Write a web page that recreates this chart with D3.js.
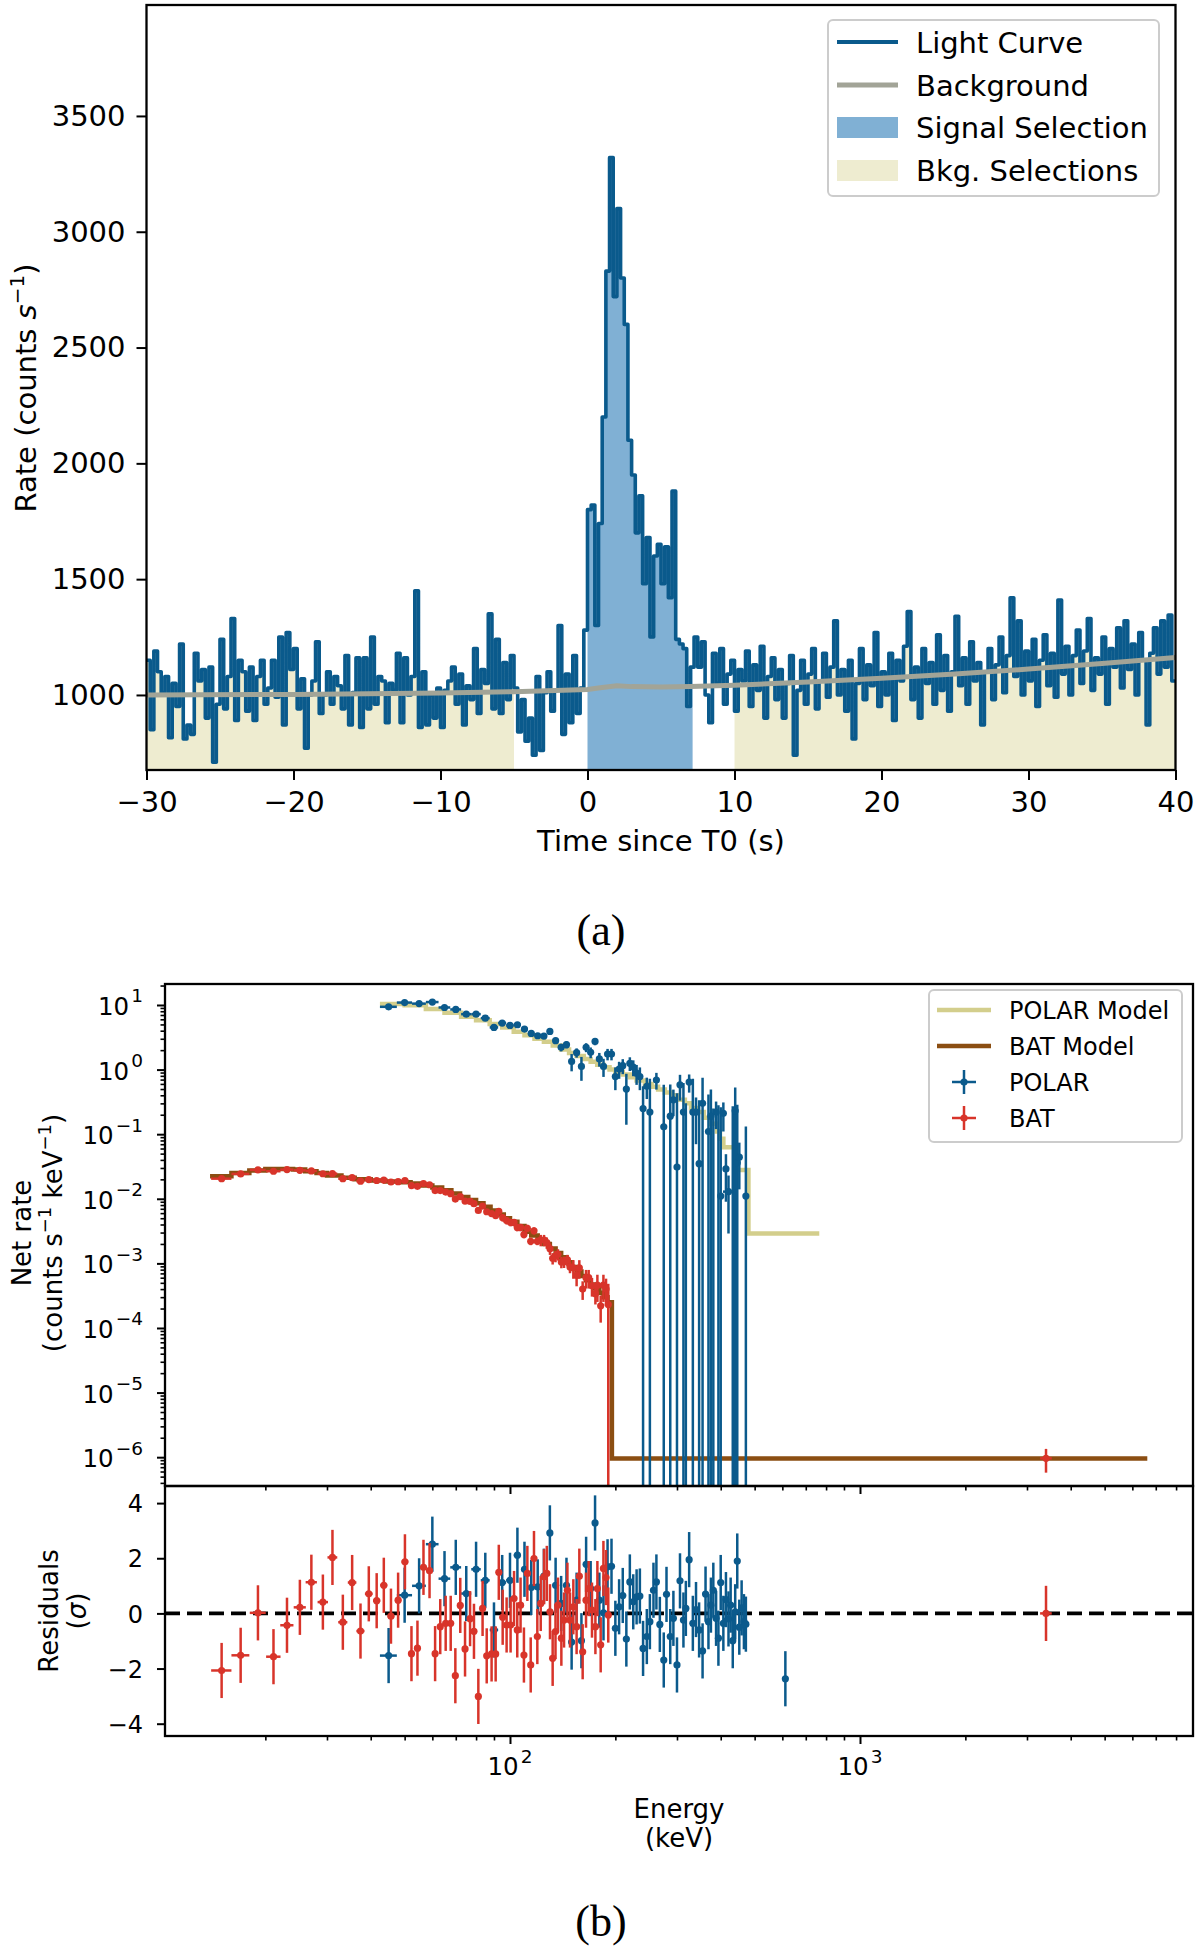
<!DOCTYPE html>
<meta charset="utf-8">
<style>
body { margin: 0; background: #fff; }
svg { display: block; font-family: "DejaVu Sans", sans-serif; }
</style>
<svg id="fig" width="1200" height="1956"></svg>
<script src="https://d3js.org/d3.v7.min.js"></script>
<script>
'use strict';

// ---------- (a) light curve, 0.25 s bins from -30 s ----------
var lcStart = -30, lcBin = 0.25;
var lcPre = [
  1150, 850, 1190, 1100, 1010, 1080, 815, 1050, 950, 1220,
  810, 870, 830, 1180, 1060, 1110, 900, 1120, 710, 960,
  1240, 940, 1080, 1330, 890, 1150, 1100, 930, 1120, 890,
  1080, 1150, 960, 1030, 1150, 990, 1250, 870, 1270, 1110,
  1200, 940, 1070, 770, 1000, 1060, 1230, 920, 1000, 1100,
  960, 1080, 1040, 940, 1170, 870, 1010, 1160, 860, 1160,
  940, 1250, 960, 1080, 1060, 880, 1050, 1020, 1180, 880,
  1160, 1000, 1080, 1450, 860, 1100, 870,
  1000, 900, 1030, 860, 1020, 1060, 1120, 960, 1090, 870,
  1040, 980, 1200, 920, 1110, 1050, 1350, 940, 1240, 920,
  1140, 980, 1170, 1030, 840, 980, 800, 900, 740, 1080,
  760, 1010, 1100, 930, 1020, 1300, 830, 1090, 880, 1170,
  920, 1030, 1280];
var lcBurst = [
  1800, 1820, 1300, 1740, 2200, 2830, 3320, 2720, 3100, 2800,
  2600, 2100, 1950, 1700, 1860, 1480, 1680, 1250, 1600, 1650,
  1480, 1640, 1420, 1880, 1240, 1220, 1200, 950, 1120];
var lcPost = [
  1250, 1120, 1230, 1000, 880, 1180, 1050, 1200, 960, 1090, 1150,
  930, 1110, 1060, 1190, 950, 1130, 1020, 1210, 900, 1080,
  1160, 980, 1110, 900, 1050, 1170, 740, 1020, 1150, 960,
  1090, 1200, 940, 1060, 1180, 990, 1120, 1320, 1000, 1110,
  930, 1150, 810, 1050, 1200, 980, 1130, 1040, 1270, 950,
  1100, 1000, 1180, 890, 1150, 1060, 1210, 1360, 980, 1120,
  900, 1200, 1050, 1140, 960, 1260, 1020, 1170, 930, 1100,
  1340, 1040, 1160, 960, 1230, 1060, 1140, 870, 1100, 1200,
  980, 1130, 1250, 1010, 1170, 1420, 1080, 1320, 1000, 1190,
  1060, 1240, 950, 1150, 1260, 1040, 1180, 990, 1410, 1090,
  1210, 1000, 1170, 1280, 1050, 1190, 1330, 1020, 1160, 1090,
  1250, 960, 1200, 1120, 1290, 1030, 1320, 1110, 1220, 1000,
  1270, 1150, 870, 1180, 1290, 1090, 1320, 1120, 1345, 1060];
var lcRate = lcPre.concat(lcBurst, lcPost);

var bgTime = [-30, -20, -10, -5, 0, 1, 2, 3, 5, 7, 10, 15, 20, 25, 30, 35, 40];
var bgRate = [1000, 1002, 1008, 1014, 1024, 1032, 1040, 1036, 1034, 1036, 1042, 1056, 1072, 1090, 1112, 1136, 1162];

var sigSel = [0, 7.15];
var bkgSel = [[-30, -5], [10, 40]];

var xTicksA = [-30, -20, -10, 0, 10, 20, 30, 40];
var yTicksA = [1000, 1500, 2000, 2500, 3000, 3500];
var legendA = ["Light Curve", "Background", "Signal Selection", "Bkg. Selections"];

// ---------- (b) spectra ----------
var polarE = [45, 50, 55, 60, 65, 70, 75, 80, 85, 90, 95, 100, 105, 110, 115, 120, 125, 130, 135, 140,
  145, 150, 155, 160, 165, 170, 175, 180, 185, 190, 195, 200, 205, 210, 215, 220, 225, 230, 235, 240,
  246, 251, 257, 262, 268, 275, 280, 287, 293, 300, 306, 313, 318, 325, 333, 340, 347, 355, 362, 369,
  375, 381, 388, 394, 400, 407, 414, 421, 427, 433, 440, 446, 452, 459, 466, 472, 612];
var polarRate = [9.37, 10.9, 10.5, 11.1, 9.15, 8.53, 7.21, 7.21, 6.26, 4.50, 5.25, 4.83, 4.94, 4.24, 3.63, 3.34, 3.30, 3.90, 2.80, 2.21,
  2.43, 1.34, 1.83, 1.12, 2.21, 1.85, 2.73, 1.46, 1.12, 1.74, 1.74, 0.78, 1.02, 1.15, 0.50, 1.25, 1.09, 0.88, 0.78, 0.25,
  0.55, 0.22, -0.2, 0.69, -0.15, 0.13, -0.1, 0.19, 0.34, 0.031, 0.58, 0.22, -0.05, 0.64, 0.22, 0.22, 0.035, 0.30, -0.1, 0.11,
  0.19, -0.05, 0.22, -0.02, 0.011, 0.21, 0.029, 0.0129, -0.05, -0.03, 0.23, 0.036, 0.044, -0.05, -0.05, 0.011, -0.01];
var polarErr = [0.5, 0.5, 0.5, 0.5, 0.45, 0.45, 0.4, 0.4, 0.4, 0.4, 0.35, 0.35, 0.35, 0.35, 0.3, 0.3, 0.3, 0.3, 0.3, 0.3,
  0.3, 0.4, 0.3, 0.45, 0.35, 0.35, 0.35, 0.35, 0.35, 0.35, 0.35, 0.3, 0.3, 0.3, 0.36, 0.3, 0.3, 0.3, 0.3, 0.3,
  0.2, 0.5, 0.1, 0.2, 0.1, 0.45, 0.05, 0.4, 0.15, 0.4, 0.25, 0.4, 0.35, 0.2, 0.5, 0.15, 0.3, 0.45, 0.05, 0.3,
  0.3, 0.3, 0.1, 0.3, 0.25, 0.1, 0.02, 0.01, 0.02, 0.3, 0.3, 0.25, 0.03, 0.02, 0.02, 0.12, 0.004];
var polarXerr = [2.5, 2.5, 2.5, 2.5, 2.5, 2.5, 2.5, 2.5, 2.5, 2.5, 2.5, 2.5, 2.5, 2.5, 2.5, 2.5, 2.5, 2.5, 2.5, 2.5,
  2.5, 2.5, 2.5, 2.5, 2.5, 2.5, 2.5, 2.5, 2.5, 2.5, 2.5, 2.5, 2.5, 2.5, 2.5, 2.5, 2.5, 2.5, 2.5, 2.5,
  3, 3, 3, 3, 3, 3, 3, 3, 3, 3, 3, 3, 3, 3, 3, 3, 3, 3, 3, 3,
  3, 3, 3, 3, 3, 3, 3, 15, 3, 3, 3, 3, 3, 3, 3, 3, 0];
var polarRes = [-1.53, 0.66, 1.0, 2.51, 1.26, 1.67, 0.72, 1.60, 1.20, -0.60, 1.12, 1.2, 2.11, 1.60, 0.94, 0.96, 1.35, 2.92, 1.02, 0.36,
  1.02, -1.04, 0.48, -0.99, 1.78, 0.90, 3.28, 0.48, 0.02, 1.69, 1.71, -0.54, 0.24, 0.65, -0.93, 1.14, 0.42, 0.60, 0.63, -1.27,
  -0.84, -0.30, 0.84, 1.14, -0.4, -1.69, 0.69, -0.84, -0.18, -1.87, 1.18, -0.24, 0.18, 1.95, -0.36, 0.14, -0.6, -1.36, 0.70, -0.30,
  0.30, 0.84, -0.18, -0.9, 1.12, -0.36, 0.5, -0.2, 0.3, -0.99, 0.06, 1.90, -0.5, 0.2, -0.3, -0.39, -2.37];

var batE = [15.0, 17.0, 19.05, 21.1, 23.06, 25.1, 27.07, 29.2, 31.1, 33.3, 35.4, 37.4, 39.5, 41.6, 43.6, 45.7, 47.9, 50.1,
  52.3, 54.4, 56.6, 58.9, 61.1, 63.2, 65.5, 67.7, 69.8, 72.1, 74.4, 76.9, 78.9, 81.2, 83.5, 85.8, 88.6, 91.0,
  92.9, 95.3, 97.8, 100.4, 102.7, 104.9, 107.2, 109.6, 112.1, 114.6, 117.1, 119.7, 122.4, 125.1, 127.4, 130.1,
  132.4, 134.9, 137.1, 140.2, 142.7, 145.9, 148.4, 151.7, 155.0, 157.8, 161.3, 164.9, 167.8, 171.5, 175.4,
  177.7, 181.6, 184.9, 188.1, 190.9, 3400];
var batRate = [0.0205, 0.0243, 0.0280, 0.0267, 0.0283, 0.0276, 0.0270, 0.0244, 0.0245, 0.0205, 0.0212, 0.0187, 0.0198, 0.0192, 0.0195, 0.0182, 0.0184, 0.0192,
  0.0160, 0.0156, 0.0172, 0.0165, 0.0134, 0.0134, 0.0127, 0.0120, 0.0099, 0.0108, 0.0092, 0.0091, 0.0084, 0.0066, 0.0077, 0.0063, 0.0059, 0.0055,
  0.0064, 0.0051, 0.0046, 0.0043, 0.0043, 0.0036, 0.0036, 0.0028, 0.0035, 0.0022, 0.0032, 0.0022, 0.0023, 0.0023, 0.0021, 0.00169,
  0.0012, 0.0013, 0.00138, 0.00105, 0.00106, 0.00113, 0.00088, 0.00085, 0.00065, 0.00085, 0.00040, 0.00060, 0.00060, 0.00045, 0.00034,
  0.00046, 0.00022, 0.00046, 0.00040, 0.00023, 9.6e-7];
var batRelErr = [0.06, 0.06, 0.06, 0.06, 0.06, 0.06, 0.06, 0.06, 0.06, 0.06, 0.06, 0.05, 0.05, 0.05, 0.05, 0.05, 0.05, 0.05,
  0.055, 0.055, 0.055, 0.055, 0.055, 0.055, 0.055, 0.055, 0.055, 0.055, 0.08, 0.08, 0.08, 0.08, 0.08, 0.08, 0.08, 0.08,
  0.08, 0.13, 0.13, 0.13, 0.13, 0.13, 0.13, 0.13, 0.13, 0.13, 0.13, 0.13, 0.2, 0.2, 0.2, 0.2,
  0.2, 0.2, 0.2, 0.2, 0.2, 0.2, 0.2, 0.32, 0.32, 0.32, 0.32, 0.32, 0.32, 0.32, 0.32,
  0.45, 0.45, 0.45, 0.45, 1.1, 0.4];
var batXerr = [1.0, 1.0, 1.0, 1.0, 1.0, 1.0, 1.0, 1.0, 1.0, 1.0, 1.0, 1.0, 1.0, 1.0, 1.0, 1.0, 1.0, 1.1,
  1.1, 1.1, 1.1, 1.1, 1.1, 1.1, 1.1, 1.1, 1.1, 1.1, 1.1, 1.1, 1.1, 1.1, 1.1, 1.1, 1.1, 1.1,
  1.1, 1.2, 1.2, 1.2, 1.2, 1.2, 1.2, 1.2, 1.2, 1.2, 1.2, 1.2, 1.3, 1.3, 1.3, 1.3,
  1.3, 1.3, 1.3, 1.3, 1.3, 1.3, 1.3, 1.3, 1.3, 1.3, 1.3, 1.3, 1.3, 1.3, 1.3,
  1.3, 1.3, 1.3, 1.3, 1.3, 130];
var batRes = [-2.07, -1.52, 0.02, -1.57, -0.43, 0.22, 1.13, 0.41, 2.03, -0.32, 1.12, -0.64, 0.71, 0.46, 1.02, -0.10, 0.48, 1.87,
  -1.46, -1.26, 1.67, 1.55, -1.46, -0.48, -0.36, -0.36, -2.26, 0.29, -1.29, -0.19, -0.65, -3.01, 0.18, -1.54, -1.47, -1.47,
  1.49, -0.14, -0.42, -0.42, 0.54, -0.60, 0.30, -1.51, 1.45, -1.87, 1.99, -0.84, 0.36, 1.33, 1.45, 0.06,
  -1.63, -0.66, 0.30, -0.90, -0.24, 0.84, -0.24, 0.24, -0.48, 1.35, -1.39, 0.48, 0.90, 0.12, -0.48,
  0.90, -1.14, 1.63, 1.30, -0.06, 0.0];

// folded models, drawn as steps (value holds until next edge)
var polarModelE = [42.5, 50, 57.5, 65, 72.5, 80, 87.5, 95, 102.5, 110, 117.5, 125, 132.5, 140, 147.5, 155, 162.5, 170, 177.5,
  185, 192.5, 200, 210, 220, 230, 243, 254, 265, 277, 290, 303, 316, 329, 343, 358, 373, 390, 398, 407, 440, 480, 765];
var polarModelV = [10.4, 9.9, 8.7, 7.6, 6.6, 5.8, 5.1, 4.5, 3.85, 3.4, 3.0, 2.7, 2.35, 2.05, 1.8, 1.62, 1.46, 1.32, 1.19,
  1.09, 1.0, 0.92, 0.84, 0.76, 0.68, 0.60, 0.54, 0.49, 0.44, 0.40, 0.34, 0.30, 0.255, 0.22, 0.18, 0.145, 0.11, 0.085, 0.063, 0.028, 0.0029, 0.0029];
var batModelE = [13.9, 16, 18, 20, 22, 24, 26, 28, 30, 33, 36, 40, 44, 48, 52, 56, 60, 64, 68, 72, 76, 80, 84, 88, 92, 96,
  100, 105, 110, 115, 120, 125, 130, 135, 140, 145, 150, 155, 160, 165, 170, 175, 180, 185, 190, 195.5, 6620];
var batModelV = [0.0223, 0.0251, 0.0274, 0.0288, 0.0290, 0.0285, 0.0268, 0.0250, 0.0230, 0.0212, 0.0200, 0.0192, 0.0186, 0.0180,
  0.0172, 0.0161, 0.0150, 0.0136, 0.0121, 0.0107, 0.0096, 0.0085, 0.0075, 0.0066, 0.0057, 0.0050, 0.0044, 0.0038, 0.0031,
  0.0027, 0.0023, 0.0020, 0.0017, 0.00145, 0.00124, 0.00104, 0.00088, 0.00075, 0.00064, 0.00055, 0.00047, 0.00041,
  0.00035, 0.00030, 0.00025, 9.5e-7, 9.5e-7];

var xTicksB = [100, 1000];
var xExpB = ["2", "3"];
var yTicksB = [1e-6, 1e-5, 1e-4, 1e-3, 1e-2, 1e-1, 1, 10];
var yExpB = ["\u22126", "\u22125", "\u22124", "\u22123", "\u22122", "\u22121", "0", "1"];
var rTicks = [-4, -2, 0, 2, 4];
var legendB = ["POLAR Model", "BAT Model", "POLAR", "BAT"];

// ---------- style ----------
var lcBlue = "#0a5a8c", bgGray = "#a2a497", sigFill = "#80b0d4", bkgFill = "#eeecd0";
var polarCol = "#0b5a8c", batCol = "#d8342a", polarModelCol = "#d3ce8c", batModelCol = "#8b4e12";

var svg = d3.select("#fig");
var defs = svg.append("defs");

function clip(id, rects) {
  var c = defs.append("clipPath").attr("id", id);
  rects.forEach(function(r) {
    c.append("rect").attr("x", r[0]).attr("y", r[1]).attr("width", r[2]).attr("height", r[3]);
  });
}

function styleAxis(g, size) {
  g.select(".domain").remove();
  g.selectAll(".tick line").attr("stroke", "#000").attr("stroke-width", 2);
  g.selectAll("text").attr("font-size", size).attr("font-family", "DejaVu Sans").attr("fill", "#000");
  g.attr("font-family", null).attr("font-size", null);
}

// ===================== panel (a) =====================
var xa = d3.scaleLinear().domain([-30, 40]).range([146.5, 1175.5]);
var ya = d3.scaleLinear().domain([676, 3979]).range([770, 5]);
var ga = svg.append("g");

clip("clipA", [[146.5, 5, 1029, 765]]);
clip("clipSig", [[xa(sigSel[0]), 5, xa(sigSel[1]) - xa(sigSel[0]), 765]]);
clip("clipBkg", bkgSel.map(function(s) { return [xa(s[0]), 5, xa(s[1]) - xa(s[0]), 765]; }));

var lcPts = lcRate.map(function(v, i) { return [lcStart + i * lcBin, v]; });
lcPts.push([40, lcRate[lcRate.length - 1]]);

var areaA = d3.area().curve(d3.curveStepAfter)
  .x(function(d) { return xa(d[0]); })
  .y0(ya(ya.domain()[0]))
  .y1(function(d) { return ya(d[1]); });
var lineA = d3.line().curve(d3.curveStepAfter)
  .x(function(d) { return xa(d[0]); })
  .y(function(d) { return ya(d[1]); });

ga.append("path").datum(lcPts).attr("d", areaA).attr("fill", bkgFill).attr("clip-path", "url(#clipBkg)");
ga.append("path").datum(lcPts).attr("d", areaA).attr("fill", sigFill).attr("clip-path", "url(#clipSig)");
ga.append("path").datum(lcPts).attr("d", lineA)
  .attr("fill", "none").attr("stroke", lcBlue).attr("stroke-width", 3.6)
  .attr("stroke-linejoin", "round").attr("clip-path", "url(#clipA)");
ga.append("path").datum(d3.zip(bgTime, bgRate))
  .attr("d", d3.line().x(function(d) { return xa(d[0]); }).y(function(d) { return ya(d[1]); }))
  .attr("fill", "none").attr("stroke", bgGray).attr("stroke-width", 5).attr("clip-path", "url(#clipA)");

var axXa = ga.append("g").attr("transform", "translate(0,770)")
  .call(d3.axisBottom(xa).tickValues(xTicksA).tickSize(10));
styleAxis(axXa, 29);
axXa.selectAll("text").attr("y", 42).attr("dy", null);

var axYa = ga.append("g").attr("transform", "translate(146.5,0)")
  .call(d3.axisLeft(ya).tickValues(yTicksA).tickSize(10).tickPadding(11).tickFormat(d3.format("d")));
styleAxis(axYa, 29);

ga.append("rect").attr("x", 146.5).attr("y", 5).attr("width", 1029).attr("height", 765)
  .attr("fill", "none").attr("stroke", "#000").attr("stroke-width", 2.3);

ga.append("text").attr("x", 661).attr("y", 851).attr("text-anchor", "middle")
  .attr("font-size", 29).text("Time since T0 (s)");

var ylabA = ga.append("text").attr("transform", "translate(36,388) rotate(-90)")
  .attr("text-anchor", "middle").attr("font-size", 29);
ylabA.append("tspan").text("Rate (counts ");
ylabA.append("tspan").attr("font-style", "italic").text("s");
ylabA.append("tspan").attr("dy", -12).attr("font-size", 20).text("\u22121");
ylabA.append("tspan").attr("dy", 12).text(")");

// legend (a)
var lgA = ga.append("g");
lgA.append("rect").attr("x", 828).attr("y", 20).attr("width", 331).attr("height", 176).attr("rx", 5)
  .attr("fill", "#fff").attr("stroke", "#cccccc").attr("stroke-width", 2);
var lgAy = [42, 85, 127.5, 170.5];
lgA.append("line").attr("x1", 837).attr("x2", 898).attr("y1", lgAy[0]).attr("y2", lgAy[0])
  .attr("stroke", lcBlue).attr("stroke-width", 4);
lgA.append("line").attr("x1", 837).attr("x2", 898).attr("y1", lgAy[1]).attr("y2", lgAy[1])
  .attr("stroke", bgGray).attr("stroke-width", 5);
lgA.append("rect").attr("x", 837).attr("y", lgAy[2] - 10.5).attr("width", 61).attr("height", 21).attr("fill", sigFill);
lgA.append("rect").attr("x", 837).attr("y", lgAy[3] - 10.5).attr("width", 61).attr("height", 21).attr("fill", bkgFill);
lgA.selectAll("text.lg").data(legendA).enter().append("text")
  .attr("x", 916).attr("y", function(d, i) { return lgAy[i] + 10.5; })
  .attr("font-size", 29).text(function(d) { return d; });

svg.append("text").attr("x", 601).attr("y", 945).attr("text-anchor", "middle")
  .attr("font-family", "Liberation Serif").attr("font-size", 44).text("(a)");

// ===================== panel (b) =====================
var xb = d3.scaleLog().domain([10.335, 8942]).range([165, 1193]);
var yb = d3.scaleLog().domain([3.58e-7, 21.13]).range([1486, 984]);
var yr = d3.scaleLinear().domain([-4.446, 4.62]).range([1736, 1486]);
var gb = svg.append("g");

clip("clipB", [[165, 984, 1028, 502]]);
clip("clipR", [[165, 1486, 1028, 250]]);

var stepB = d3.line().curve(d3.curveStepAfter)
  .x(function(d) { return xb(d[0]); })
  .y(function(d) { return yb(d[1]); });

var up = gb.append("g").attr("clip-path", "url(#clipB)");
up.append("path").datum(d3.zip(polarModelE, polarModelV)).attr("d", stepB)
  .attr("fill", "none").attr("stroke", polarModelCol).attr("stroke-width", 4.5);
up.append("path").datum(d3.zip(batModelE, batModelV)).attr("d", stepB)
  .attr("fill", "none").attr("stroke", batModelCol).attr("stroke-width", 4.5);

function spectrum(g, E, V, err, xerr, col) {
  var lo = yb.domain()[0];
  var idx = d3.range(E.length).filter(function(i) { return V[i] + err[i] > 0; });
  var s = g.append("g");
  s.selectAll("line.v").data(idx).enter().append("line")
    .attr("x1", function(i) { return xb(E[i]); }).attr("x2", function(i) { return xb(E[i]); })
    .attr("y1", function(i) { return yb(Math.max(V[i] - err[i], lo)); })
    .attr("y2", function(i) { return yb(V[i] + err[i]); })
    .attr("stroke", col).attr("stroke-width", 2.5);
  var pos = idx.filter(function(i) { return V[i] > 0; });
  s.selectAll("line.h").data(pos).enter().append("line")
    .attr("x1", function(i) { return xb(E[i] - xerr[i]); }).attr("x2", function(i) { return xb(E[i] + xerr[i]); })
    .attr("y1", function(i) { return yb(V[i]); }).attr("y2", function(i) { return yb(V[i]); })
    .attr("stroke", col).attr("stroke-width", 2.5);
  s.selectAll("circle").data(pos).enter().append("circle")
    .attr("cx", function(i) { return xb(E[i]); }).attr("cy", function(i) { return yb(V[i]); })
    .attr("r", 3.6).attr("fill", col);
}
spectrum(up, polarE, polarRate, polarErr, polarXerr, polarCol);
spectrum(up, batE, batRate, batRate.map(function(v, i) { return v * batRelErr[i]; }), batXerr, batCol);

// residuals
var rp = gb.append("g").attr("clip-path", "url(#clipR)");
rp.append("line").attr("x1", 165).attr("x2", 1193).attr("y1", yr(0)).attr("y2", yr(0))
  .attr("stroke", "#000").attr("stroke-width", 3.8).attr("stroke-dasharray", "15,7");

function residuals(g, E, R, xerr, col) {
  var s = g.append("g");
  var idx = d3.range(E.length);
  s.selectAll("line.v").data(idx).enter().append("line")
    .attr("x1", function(i) { return xb(E[i]); }).attr("x2", function(i) { return xb(E[i]); })
    .attr("y1", function(i) { return yr(R[i] - 1); }).attr("y2", function(i) { return yr(R[i] + 1); })
    .attr("stroke", col).attr("stroke-width", 2.5);
  s.selectAll("line.h").data(idx).enter().append("line")
    .attr("x1", function(i) { return xb(E[i] - xerr[i]); }).attr("x2", function(i) { return xb(E[i] + xerr[i]); })
    .attr("y1", function(i) { return yr(R[i]); }).attr("y2", function(i) { return yr(R[i]); })
    .attr("stroke", col).attr("stroke-width", 2.5);
  s.selectAll("circle").data(idx).enter().append("circle")
    .attr("cx", function(i) { return xb(E[i]); }).attr("cy", function(i) { return yr(R[i]); })
    .attr("r", 3.6).attr("fill", col);
}
residuals(rp, polarE, polarRes, polarXerr, polarCol);
residuals(rp, batE, batRes, batXerr, batCol);

// axes (b)
var minorX = xb.ticks().filter(function(t) { return xTicksB.indexOf(t) < 0; });
var minorY = yb.ticks().filter(function(t) { return yTicksB.every(function(m) { return Math.abs(t / m - 1) > 1e-6; }); });

[1486, 1736].forEach(function(y0) {
  var ax = gb.append("g").attr("transform", "translate(0," + y0 + ")");
  ax.call(d3.axisBottom(xb).tickValues(xTicksB).tickSize(8).tickFormat(""));
  styleAxis(ax, 23);
  var axm = gb.append("g").attr("transform", "translate(0," + y0 + ")");
  axm.call(d3.axisBottom(xb).tickValues(minorX).tickSize(4.5).tickFormat(""));
  styleAxis(axm, 23);
  axm.selectAll(".tick line").attr("stroke-width", 1.6);
});

var axYb = gb.append("g").attr("transform", "translate(165,0)")
  .call(d3.axisLeft(yb).tickValues(yTicksB).tickSize(8).tickFormat(""));
styleAxis(axYb, 23);
var axYbm = gb.append("g").attr("transform", "translate(165,0)")
  .call(d3.axisLeft(yb).tickValues(minorY).tickSize(4.5).tickFormat(""));
styleAxis(axYbm, 23);
axYbm.selectAll(".tick line").attr("stroke-width", 1.6);

var axR = gb.append("g").attr("transform", "translate(165,0)")
  .call(d3.axisLeft(yr).tickValues(rTicks).tickSize(8).tickPadding(14));
styleAxis(axR, 24);
axR.selectAll("text").attr("dy", "0.36em");

function powLabel(g, x, y, exp, anchor) {
  var t = g.append("text").attr("x", x).attr("y", y).attr("font-size", 24.5).attr("text-anchor", anchor);
  t.append("tspan").text("10");
  t.append("tspan").attr("dx", 2).attr("dy", -12.5).attr("font-size", 18.5).text(exp);
}
yTicksB.forEach(function(v, i) { powLabel(gb, 143, yb(v) + 10, yExpB[i], "end"); });
xTicksB.forEach(function(v, i) { powLabel(gb, xb(v), 1775, xExpB[i], "middle"); });

gb.append("rect").attr("x", 165).attr("y", 984).attr("width", 1028).attr("height", 502)
  .attr("fill", "none").attr("stroke", "#000").attr("stroke-width", 2.3);
gb.append("rect").attr("x", 165).attr("y", 1486).attr("width", 1028).attr("height", 250)
  .attr("fill", "none").attr("stroke", "#000").attr("stroke-width", 2.3);

// labels (b)
gb.append("text").attr("transform", "translate(31,1233) rotate(-90)")
  .attr("text-anchor", "middle").attr("font-size", 26).text("Net rate");
var yl2 = gb.append("text").attr("transform", "translate(62,1233) rotate(-90)")
  .attr("text-anchor", "middle").attr("font-size", 26);
yl2.append("tspan").text("(counts s");
yl2.append("tspan").attr("dy", -11).attr("font-size", 18).text("\u22121");
yl2.append("tspan").attr("dy", 11).text(" keV");
yl2.append("tspan").attr("dy", -11).attr("font-size", 18).text("\u22121");
yl2.append("tspan").attr("dy", 11).text(")");

gb.append("text").attr("transform", "translate(58,1611) rotate(-90)")
  .attr("text-anchor", "middle").attr("font-size", 26).text("Residuals");
var rl2 = gb.append("text").attr("transform", "translate(86,1611) rotate(-90)")
  .attr("text-anchor", "middle").attr("font-size", 26);
rl2.append("tspan").text("(");
rl2.append("tspan").attr("font-style", "italic").text("\u03c3");
rl2.append("tspan").text(")");

gb.append("text").attr("x", 679).attr("y", 1818).attr("text-anchor", "middle").attr("font-size", 26).text("Energy");
gb.append("text").attr("x", 679).attr("y", 1847).attr("text-anchor", "middle").attr("font-size", 26).text("(keV)");

// legend (b)
var lgB = gb.append("g");
lgB.append("rect").attr("x", 929).attr("y", 990).attr("width", 253).attr("height", 152).attr("rx", 5)
  .attr("fill", "#fff").attr("stroke", "#cccccc").attr("stroke-width", 2);
var lgBy = [1010, 1046, 1082, 1118];
lgB.append("line").attr("x1", 937).attr("x2", 991).attr("y1", lgBy[0]).attr("y2", lgBy[0])
  .attr("stroke", polarModelCol).attr("stroke-width", 4.5);
lgB.append("line").attr("x1", 937).attr("x2", 991).attr("y1", lgBy[1]).attr("y2", lgBy[1])
  .attr("stroke", batModelCol).attr("stroke-width", 4.5);
[[lgBy[2], polarCol], [lgBy[3], batCol]].forEach(function(p) {
  lgB.append("line").attr("x1", 964).attr("x2", 964).attr("y1", p[0] - 12).attr("y2", p[0] + 12)
    .attr("stroke", p[1]).attr("stroke-width", 2.5);
  lgB.append("line").attr("x1", 952).attr("x2", 976).attr("y1", p[0]).attr("y2", p[0])
    .attr("stroke", p[1]).attr("stroke-width", 2.5);
  lgB.append("circle").attr("cx", 964).attr("cy", p[0]).attr("r", 3.6).attr("fill", p[1]);
});
lgB.selectAll("text.lg").data(legendB).enter().append("text")
  .attr("x", 1009).attr("y", function(d, i) { return lgBy[i] + 8.8; })
  .attr("font-size", 24).text(function(d) { return d; });

svg.append("text").attr("x", 601).attr("y", 1936).attr("text-anchor", "middle")
  .attr("font-family", "Liberation Serif").attr("font-size", 44).text("(b)");
</script>
